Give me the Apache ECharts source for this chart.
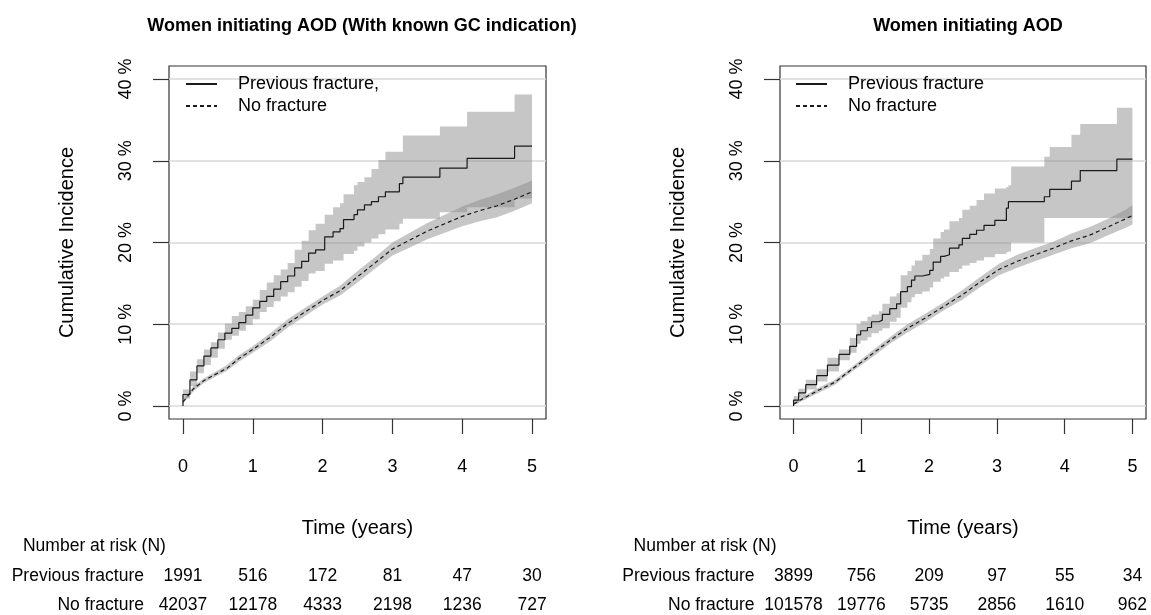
<!DOCTYPE html>
<html>
<head>
<meta charset="utf-8">
<title>Cumulative incidence after AOD initiation</title>
<script src="https://cdn.jsdelivr.net/npm/echarts@6/dist/echarts.min.js"></script>
<style>
    html, body { margin: 0; padding: 0; background: #fff; }
    #chart-container { width: 1151px; height: 615px; }
</style>
</head>
<body>
<div id="chart-container"></div>
<script>
// left panel: women initiating AOD with known GC indication
var leftPrevT  = [0, 0, 0.1, 0.2, 0.3, 0.4, 0.5, 0.6, 0.7, 0.8, 0.9, 1.0, 1.1, 1.2, 1.3, 1.4, 1.5, 1.6, 1.7, 1.8, 1.9, 2.03, 2.15, 2.25, 2.3, 2.45, 2.5, 2.6, 2.7, 2.8, 2.9, 3.1, 3.15, 3.68, 4.07, 4.75, 5.0];
var leftPrevY  = [0, 1.4, 3.2, 4.9, 6.1, 7.1, 8.1, 8.9, 9.5, 10.2, 11.1, 12.0, 12.8, 13.4, 14.3, 15.2, 15.9, 16.9, 17.7, 18.7, 19.1, 20.7, 21.3, 21.7, 22.8, 23.4, 24.0, 24.6, 25.0, 25.6, 26.2, 27.2, 28.0, 29.1, 30.3, 31.8, 31.8];
var leftPrevHi = [0, 2.0, 4.2, 5.7, 6.9, 7.8, 9.0, 10.1, 11.0, 11.5, 12.2, 13.0, 14.2, 15.1, 16.0, 16.7, 17.5, 19.1, 20.2, 21.5, 22.3, 23.4, 24.3, 24.8, 25.9, 27.0, 27.4, 28.0, 29.0, 30.1, 31.1, 31.1, 33.1, 34.2, 36.0, 38.1, 38.1];
var leftPrevLo = [0, 0.9, 2.4, 4.0, 5.0, 5.9, 7.0, 8.1, 8.6, 9.2, 9.9, 10.6, 11.5, 12.1, 12.8, 13.4, 13.9, 14.6, 15.3, 16.2, 16.5, 17.4, 17.8, 17.8, 18.6, 19.0, 19.5, 20.0, 20.5, 21.0, 21.6, 22.3, 22.9, 23.7, 24.3, 25.4, 25.4];

var leftNoT  = [0, 0.05, 0.15, 0.3, 0.45, 0.63, 0.8, 1.0, 1.25, 1.5, 1.75, 2.0, 2.25, 2.5, 2.75, 3.0, 3.25, 3.5, 3.75, 4.0, 4.25, 4.5, 4.75, 5.0];
var leftNoY  = [0.5, 1.0, 2.1, 3.1, 3.8, 4.6, 5.8, 6.9, 8.4, 10.1, 11.5, 12.9, 14.1, 15.8, 17.5, 19.2, 20.3, 21.4, 22.3, 23.2, 23.9, 24.5, 25.3, 26.2];
var leftNoLo = [0.3, 0.8, 1.8, 2.8, 3.5, 4.3, 5.4, 6.5, 7.9, 9.6, 11.0, 12.4, 13.5, 15.1, 16.8, 18.4, 19.4, 20.4, 21.2, 22.0, 22.6, 23.1, 23.9, 24.8];
var leftNoHi = [0.7, 1.3, 2.4, 3.4, 4.1, 5.0, 6.2, 7.3, 8.9, 10.6, 12.0, 13.4, 14.7, 16.5, 18.2, 20.0, 21.2, 22.4, 23.4, 24.4, 25.2, 25.9, 26.7, 27.6];

// right panel: all women initiating AOD
var rightPrevT  = [0, 0, 0.075, 0.18, 0.34, 0.5, 0.67, 0.83, 0.93, 0.99, 1.09, 1.15, 1.26, 1.31, 1.42, 1.52, 1.58, 1.68, 1.74, 1.79, 1.9, 2.01, 2.06, 2.17, 2.22, 2.3, 2.44, 2.49, 2.6, 2.7, 2.81, 2.97, 3.14, 3.17, 3.21, 3.7, 3.78, 4.1, 4.23, 4.77, 5.0];
var rightPrevY  = [0, 0.7, 1.6, 2.6, 3.7, 5.0, 6.3, 7.3, 8.7, 9.2, 9.6, 10.3, 10.5, 11.2, 11.9, 12.5, 14.0, 14.6, 15.4, 15.9, 16.1, 16.6, 17.6, 18.3, 18.5, 19.3, 19.7, 20.5, 21.0, 21.5, 22.1, 22.7, 24.2, 25.0, 25.0, 25.6, 26.5, 27.5, 28.8, 30.2, 30.2];
var rightPrevHi = [0, 1.2, 2.1, 3.2, 4.5, 5.9, 6.9, 8.3, 10.0, 10.4, 10.9, 11.2, 11.6, 12.5, 13.4, 13.8, 16.0, 16.5, 17.2, 17.8, 18.5, 19.2, 20.5, 21.3, 21.6, 22.6, 23.0, 24.0, 24.5, 25.2, 26.0, 26.6, 26.8, 27.0, 29.3, 30.5, 31.7, 33.2, 34.5, 36.5, 36.5];
var rightPrevLo = [0, 0.3, 1.0, 2.0, 3.0, 4.2, 5.6, 6.5, 7.6, 8.0, 8.4, 8.9, 9.2, 9.5, 10.3, 10.8, 12.0, 12.7, 13.3, 13.7, 14.0, 14.5, 15.2, 15.6, 15.8, 16.4, 16.8, 17.2, 17.5, 17.8, 18.2, 18.6, 18.8, 18.9, 20.0, 23.0, 23.0, 23.0, 23.0, 23.0, 23.0];

var rightNoT  = [0, 0.075, 0.34, 0.61, 0.72, 0.88, 1.15, 1.42, 1.68, 1.95, 2.22, 2.49, 2.76, 3.03, 3.3, 3.56, 3.83, 4.1, 4.37, 4.64, 4.9, 5.0];
var rightNoY  = [0.2, 0.6, 1.8, 2.9, 3.6, 4.6, 6.3, 8.0, 9.5, 10.8, 12.2, 13.6, 15.2, 16.7, 17.7, 18.5, 19.3, 20.2, 20.9, 21.9, 22.9, 23.3];
var rightNoLo = [0.1, 0.4, 1.5, 2.6, 3.3, 4.3, 5.9, 7.6, 9.0, 10.3, 11.7, 13.0, 14.6, 16.0, 16.9, 17.7, 18.5, 19.3, 19.9, 20.9, 21.8, 22.2];
var rightNoHi = [0.3, 0.8, 2.1, 3.2, 3.9, 4.9, 6.7, 8.4, 10.0, 11.3, 12.7, 14.2, 15.8, 17.4, 18.5, 19.3, 20.1, 21.1, 21.9, 22.9, 24.0, 24.6];

// number at risk table
var riskTimes = [0, 1, 2, 3, 4, 5];
var leftPrevRisk = [1991, 516, 172, 81, 47, 30];
var leftNoRisk = [42037, 12178, 4333, 2198, 1236, 727];
var rightPrevRisk = [3899, 756, 209, 97, 55, 34];
var rightNoRisk = [101578, 19776, 5735, 2856, 1610, 962];

var xTicks = [0, 1, 2, 3, 4, 5];
var yTicks = [0, 10, 20, 30, 40];

var FONT = '"Liberation Sans", Arial, Helvetica, sans-serif';
var BAND = 'rgba(139,139,139,0.49)';

function pairs(t, y) {
    return t.map(function (v, i) { return [v, y[i]]; });
}
function triples(t, lo, hi) {
    return t.map(function (v, i) { return [v, lo[i], hi[i]]; });
}

// whole confidence band as one polygon, drawn through the grid's scales
function bandRender(t, lo, hi, step) {
    return function (params, api) {
        if (params.dataIndex > 0) return;
        var pts = [];
        var n = t.length;
        for (var i = 0; i < n; i++) {
            pts.push(api.coord([t[i], hi[i]]));
            if (step && i < n - 1) pts.push(api.coord([t[i + 1], hi[i]]));
        }
        for (var j = n - 1; j >= 0; j--) {
            if (step && j < n - 1) pts.push(api.coord([t[j + 1], lo[j]]));
            pts.push(api.coord([t[j], lo[j]]));
        }
        return { type: 'polygon', shape: { points: pts }, style: { fill: BAND } };
    };
}

function xAxisFor(idx) {
    return {
        type: 'value', gridIndex: idx, min: -0.2, max: 5.2,
        name: 'Time (years)', nameLocation: 'middle', nameGap: 99,
        nameTextStyle: { fontSize: 20, fontFamily: FONT, color: '#000' },
        axisLine: { show: false, onZero: false },
        axisTick: { show: true, length: 15, customValues: xTicks, lineStyle: { color: '#333', width: 1.2 } },
        axisLabel: { customValues: xTicks, margin: 39, fontSize: 18, fontFamily: FONT, color: '#000' },
        splitLine: { show: false }
    };
}
function yAxisFor(idx) {
    return {
        type: 'value', gridIndex: idx, min: -1.6, max: 41.6,
        name: 'Cumulative Incidence', nameLocation: 'middle', nameGap: 92,
        nameTextStyle: { fontSize: 20, fontFamily: FONT, color: '#000' },
        axisLine: { show: false, onZero: false },
        axisTick: { show: true, length: 16, customValues: yTicks, lineStyle: { color: '#333', width: 1.2 } },
        axisLabel: { customValues: yTicks, rotate: 90, margin: 34, fontSize: 18, fontFamily: FONT, color: '#000',
            formatter: '{value} %' },
        splitLine: { show: true, lineStyle: { color: '#d9d9d9', width: 1.5 } }
    };
}

function panelSeries(idx, prevName, pT, pY, pLo, pHi, nT, nY, nLo, nHi) {
    return [
        { type: 'custom', xAxisIndex: idx, yAxisIndex: idx, silent: true,
          renderItem: bandRender(pT, pLo, pHi, true), data: triples(pT, pLo, pHi), encode: { x: 0, y: [1, 2] }, z: 1 },
        { type: 'custom', xAxisIndex: idx, yAxisIndex: idx, silent: true,
          renderItem: bandRender(nT, nLo, nHi, false), data: triples(nT, nLo, nHi), encode: { x: 0, y: [1, 2] }, z: 1 },
        { type: 'line', name: prevName, xAxisIndex: idx, yAxisIndex: idx, step: 'end', symbol: 'none',
          data: pairs(pT, pY), lineStyle: { color: '#1a1a1a', width: 1.2 }, itemStyle: { color: '#1a1a1a' }, z: 3 },
        { type: 'line', name: 'No fracture', xAxisIndex: idx, yAxisIndex: idx, symbol: 'none',
          data: pairs(nT, nY), lineStyle: { color: '#1a1a1a', width: 1.2, type: [4, 3] }, itemStyle: { color: '#1a1a1a' }, z: 3 }
    ];
}

function legendFor(left, names) {
    return {
        data: names, left: left, top: 75, orient: 'vertical', selectedMode: false,
        itemWidth: 31, itemHeight: 14, itemGap: 4, padding: 0,
        itemStyle: { color: 'transparent', borderWidth: 0 },
        textStyle: { fontSize: 18, fontFamily: FONT, color: '#000', padding: [0, 0, 0, 16] }
    };
}

var option = {
    animation: false,
    backgroundColor: '#fff',
    title: [
        { text: 'Women initiating AOD (With known GC indication)', left: 357, top: 12, textAlign: 'center',
          textStyle: { fontSize: 18, fontWeight: 'bold', fontFamily: FONT, color: '#000' } },
        { text: 'Women initiating AOD', left: 963, top: 12, textAlign: 'center',
          textStyle: { fontSize: 18, fontWeight: 'bold', fontFamily: FONT, color: '#000' } }
    ],
    legend: [
        legendFor(185, ['Previous fracture,', 'No fracture']),
        legendFor(795, ['Previous fracture', 'No fracture'])
    ],
    grid: [
        { left: 169, top: 66, width: 377, height: 353, show: true, borderColor: '#333', borderWidth: 1.2,
          containLabel: false, outerBoundsMode: 'none' },
        { left: 780, top: 66, width: 366, height: 353, show: true, borderColor: '#333', borderWidth: 1.2,
          containLabel: false, outerBoundsMode: 'none' }
    ],
    xAxis: [xAxisFor(0), xAxisFor(1)],
    yAxis: [yAxisFor(0), yAxisFor(1)],
    series: panelSeries(0, 'Previous fracture,', leftPrevT, leftPrevY, leftPrevLo, leftPrevHi,
                        leftNoT, leftNoY, leftNoLo, leftNoHi)
        .concat(panelSeries(1, 'Previous fracture', rightPrevT, rightPrevY, rightPrevLo, rightPrevHi,
                        rightNoT, rightNoY, rightNoLo, rightNoHi))
};

var myChart = echarts.init(document.getElementById('chart-container'));
myChart.setOption(option);

// number-at-risk rows under each panel, placed on the panel's time scale
function riskText(x, y, text, align) {
    return { type: 'text', x: x, y: y, silent: true,
             style: { text: text, fill: '#000', fontSize: 17.5, fontFamily: FONT, align: align, verticalAlign: 'middle' } };
}
function riskRows(xIdx, prev, none) {
    var x0 = myChart.convertToPixel({ xAxisIndex: xIdx }, 0);
    var els = [
        riskText(x0 - 160, 546, 'Number at risk (N)', 'left'),
        riskText(x0 - 39, 576, 'Previous fracture', 'right'),
        riskText(x0 - 39, 605, 'No fracture', 'right')
    ];
    riskTimes.forEach(function (t, i) {
        var x = myChart.convertToPixel({ xAxisIndex: xIdx }, t);
        els.push(riskText(x, 576, String(prev[i]), 'center'));
        els.push(riskText(x, 605, String(none[i]), 'center'));
    });
    return els;
}
myChart.setOption({
    graphic: riskRows(0, leftPrevRisk, leftNoRisk).concat(riskRows(1, rightPrevRisk, rightNoRisk))
});
</script>
</body>
</html>
